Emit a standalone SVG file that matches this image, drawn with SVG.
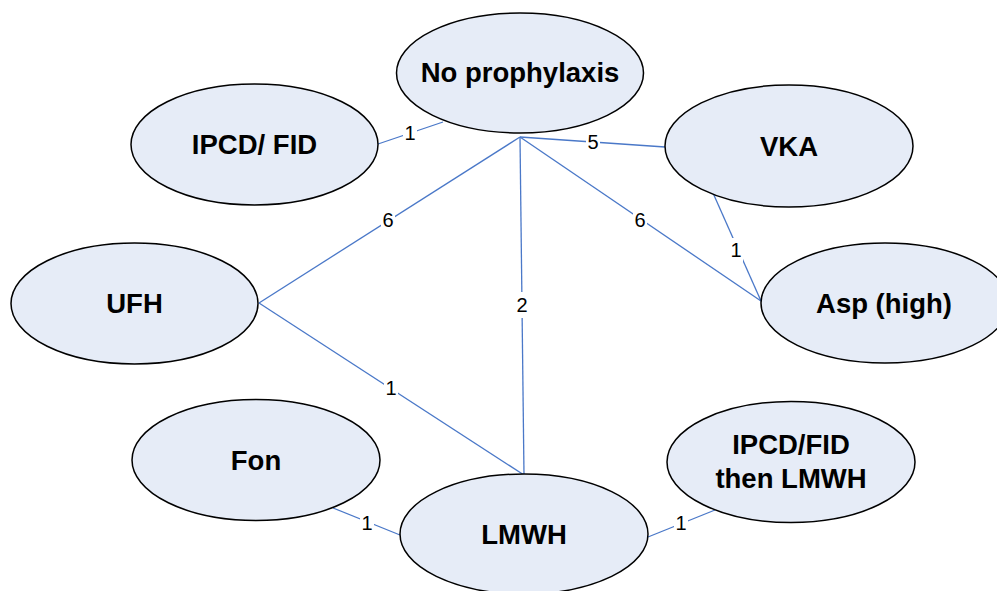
<svg xmlns="http://www.w3.org/2000/svg" width="997" height="591" viewBox="0 0 997 591">
<style>
.node ellipse{fill:#E6ECF7;stroke:#000;stroke-width:1.5}
.node text{font-family:"Liberation Sans",Arial,sans-serif;font-weight:bold;font-size:27.5px;text-anchor:middle;fill:#000}
.edge line{stroke:#4A78C8;stroke-width:1.3}
.lbl rect{fill:#fff}
.lbl text{font-family:"Liberation Sans",Arial,sans-serif;font-size:20px;text-anchor:middle;fill:#000}
</style>
<rect width="997" height="591" fill="#fff"/>
<g id="connectors">
<g class="edge">
<line x1="378" y1="144" x2="443" y2="122"/>
<line x1="520" y1="137" x2="665" y2="147"/>
<line x1="520" y1="137" x2="761" y2="301"/>
<line x1="520" y1="137" x2="259" y2="303"/>
<line x1="520" y1="137" x2="524" y2="475"/>
<line x1="259" y1="303" x2="524" y2="475"/>
<line x1="713" y1="193" x2="761" y2="301"/>
<line x1="333" y1="508" x2="400" y2="535"/>
<line x1="648" y1="537" x2="715" y2="510"/>
</g>
<g class="lbl">
<rect x="403" y="123" width="14" height="21"/><text x="410" y="140">1</text>
<rect x="586" y="132" width="14" height="21"/><text x="593" y="149">5</text>
<rect x="633" y="208" width="14" height="24"/><text x="640" y="227">6</text>
<rect x="381" y="209" width="14" height="24"/><text x="388" y="227">6</text>
<rect x="515" y="292" width="14" height="26"/><text x="522" y="312">2</text>
<rect x="384" y="377" width="14" height="22"/><text x="391" y="395">1</text>
<rect x="729" y="238" width="14" height="24"/><text x="736" y="257">1</text>
<rect x="360" y="512" width="14" height="22"/><text x="367" y="530">1</text>
<rect x="674" y="512" width="14" height="22"/><text x="681" y="530">1</text>
</g>
</g>
<g id="no-prophylaxis" class="node"><ellipse cx="520" cy="73" rx="123.5" ry="60"/><text x="520" y="82">No prophylaxis</text></g>
<g id="ipcd-fid" class="node"><ellipse cx="254.5" cy="144.5" rx="123.5" ry="60.5"/><text x="254.5" y="154">IPCD/ FID</text></g>
<g id="vka" class="node"><ellipse cx="789" cy="146" rx="124" ry="61"/><text x="789" y="156">VKA</text></g>
<g id="ufh" class="node"><ellipse cx="134.5" cy="303.5" rx="123.5" ry="60.5"/><text x="134.5" y="313">UFH</text></g>
<g id="asp-high" class="node"><ellipse cx="885" cy="303" rx="124" ry="60"/><text x="884" y="313">Asp (high)</text></g>
<g id="fon" class="node"><ellipse cx="256" cy="460" rx="124" ry="60.5"/><text x="256" y="470">Fon</text></g>
<g id="lmwh" class="node"><ellipse cx="524" cy="534" rx="124" ry="60"/><text x="524" y="544">LMWH</text></g>
<g id="ipcd-fid-then-lmwh" class="node"><ellipse cx="791" cy="462" rx="124" ry="60.5"/><text x="791" y="454">IPCD/FID</text><text x="791" y="488">then LMWH</text></g>
</svg>
